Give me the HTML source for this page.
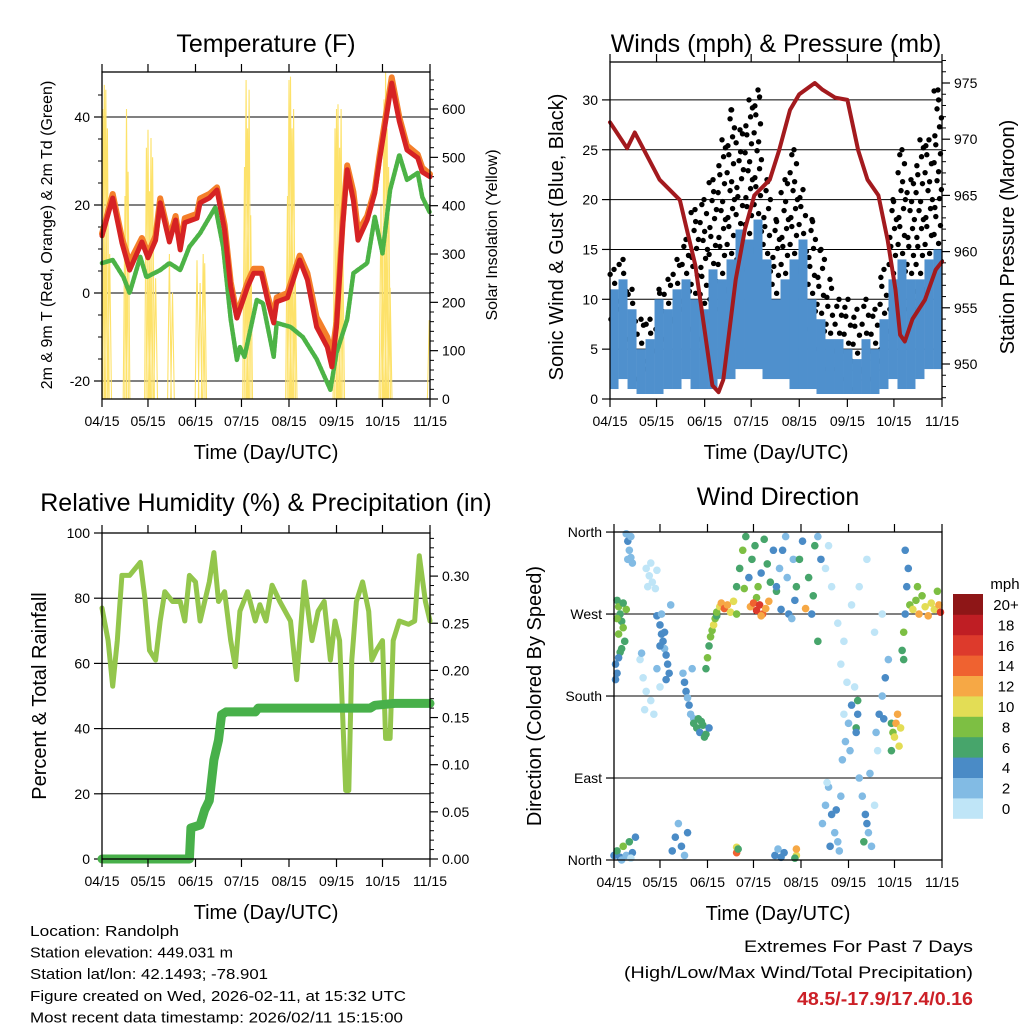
<!DOCTYPE html>
<html><head><meta charset="utf-8"><title>Station Meteogram</title>
<style>
html,body{margin:0;padding:0;background:#fff;}
svg{display:block;font-family:"Liberation Sans",sans-serif;}
</style></head>
<body>
<svg id="fig" width="1024" height="1024" viewBox="0 0 1024 1024" xmlns="http://www.w3.org/2000/svg"></svg>
<script>
// ---------- DATA ----------
const monthTickDays = [0,30,61,91,122,153,183,214];
const monthTickLabels = ["04/15","05/15","06/15","07/15","08/15","09/15","10/15","11/15"];

// Temperature (F)
const tempRedDays = [0,7,13,18,26,30,35,38,44,48,51,54,62,64,70,75,80,84,88,95,99,104,108,112,114,121,129,134,140,147,150,153,157,160,164,167,173,178,181,189,194,199,206,209,214];
const tempRedVals = [13,21.6,11.4,5.2,11.6,8,12,20.5,11.6,16.6,9.8,16,17,20.5,21.6,23.4,14.3,1.4,-5.7,1.4,4.5,4.5,-1.6,-6.8,-2,-1.1,7.5,3,-7.7,-12.3,-16.8,-7.7,15,28,21,12,16.6,22.7,30,47.7,39,32.5,30.7,27.5,26.4];
const tempOrangeVals = [13.5,22.5,12.5,7,12.5,9,13,21.5,12.5,17.5,11,17,18,21.5,22.5,24,15.5,2.5,-5,2.5,5.5,5.5,-0.5,-5.5,-1,0,8.5,4.5,-5.5,-10,-14.5,-6.5,16,29,23,14,17.5,23.5,31,49,40,33.5,31.5,28.5,27];
const dewDays = [0,7,14,18,25,29,38,44,51,57,64,74,79,84,88,90,93,101,105,112,114,123,131,140,149,153,160,164,173,178,183,188,194,199,206,209,214];
const dewVals = [6.8,7.5,3.6,0,8.2,3.6,5.2,6.8,5.2,10.5,13.6,19.5,10.5,-6,-15.2,-12.3,-14.5,-1.6,-2.3,-14.5,-6.8,-7.7,-10,-15,-22,-13.6,-6,4.5,6.8,17.3,9,23.4,31.4,25.7,27.3,21.8,18.2];
// Solar insolation spikes (day, peak W/m2)
const solarDays = [0.5,1.5,2.5,3.5,5,15,16,17,29,30,31,32,33,35,44,46,62,64,66,67,93,94,95,96,97,121,122,123,124,125,126,152,153,154,155,156,157,182,183,184,185,186,187,188,213.5];
const solarVals = [600,650,640,560,300,420,600,470,520,557,430,540,500,250,300,220,287,240,300,281,480,660,560,640,380,420,660,667,560,600,280,560,600,610,520,600,360,400,300,620,677,560,480,230,163];

// Winds (mph) & Pressure (mb)
const pressDays = [0,11,16,32,45,55,61,66,70,73,81,87,93,103,109,116,122,132,137,145,153,160,166,173,179,184,187,190,195,203,210,214];
const pressVals = [971.5,969.2,970.6,966.4,964.6,958.8,953,948.1,947.5,948.6,957.5,962,965,966.4,969,972.6,974,975,974.4,973.7,973.5,969,966.4,965,961,956.6,952.6,952,954,955.7,958.4,959.1];
const windDays = [2.6,8.4,14.2,20.0,25.8,31.6,37.4,43.2,49.0,54.8,60.6,66.4,72.2,78.0,83.8,89.6,95.4,101.2,107.0,112.8,118.6,124.4,130.2,136.0,141.8,147.6,153.4,159.2,165.0,170.8,176.6,182.4,188.2,194.0,199.8,205.6,211.4];
const windLo = [1,2,1,0.5,0.5,0.5,1,1,2,1,1,1,2,2,3,3,3,2,2,2,1,1,1,0.5,0.5,0.5,0.5,0.5,0.5,0.5,1,2,1,1,2,3,3];
const windHi = [11,12,9,5,6,10,9,11,12,10,9,13,12,14,17,16,18,14,10,12,14,16,10,8,6,6,5,4,6,5,8,12,14,12,12,14,15];
const gustMax = [13,14,11,8,8,11,12,14,16,19,20,22,26,29,27,30,31,22,18,22,25,21,18,15,12,10,10,9,10,9,13,20,25,22,26,26,31];

// Relative humidity & precipitation
const rhDays = [0,4,7,10,13,18,25,28,31,35,38,41,46,51,54,57,61,64,67,70,73,76,80,84,87,90,95,100,103,107,111,116,123,127,129,132,137,141,145,149,152,155,159,161,163,166,170,174,176,179,183,185,188,190,194,200,204,207,211,214];
const rhVals = [77,67,53,67,87,87,91,80,64,61,73,82,79,79,73,87,85,73,79,85,94,79,82,67,59,76,82,73,78,73,84,79,73,55,67,85,67,76,79,61,73,67,21,21,61,79,85,76,61,64,67,37,37,67,73,72,73,93,79,73];
const precipDays = [0,57,58,64,67,70,73,76,78,81,100,102,175,178,191,214];
const precipVals = [0,0,0.033,0.036,0.052,0.062,0.105,0.126,0.153,0.156,0.156,0.160,0.160,0.163,0.165,0.165];

// Wind direction (day, degrees, speed mph)
const wdDay = [2,3,4,5,6,3,7,5,8,6,2,4,1,2,1,3, 8,9,10,11,12,9,11, 21,23,25,27,24,22,28, 17,19,21,24,26,28,30,20,18, 28,30,31,32,33,34,35,36,37,30,33,34,31, 45,46,47,48,49,50,51,52, 52,54,56,58,60,62,55,59,57, 60,61,62,63,64,65,66,67, 67,69,70,72,74,76,78,80, 80,82,84,86,88,90,92,94,96,98,100,102,104,106,85,93, 89,91,93,95,97,99,101,96, 106,108,110,112,114,116,118,109,113,117, 119,121,123,125,127,129,131,130,133,133,135, 138,142,146,150,140,155,160,165,170,175,148,152, 136,138,140,142,144,146,148,141,139,145,147, 149,151,153,155,157,150,154, 158,159,159,158, 160,162,164,166,168,170,163,165,167, 171,173,175,177,179,172,176, 181,182,183,184,185,186,187,181, 188,189,190,191,192,190,189, 193,195,197,199,201,203,205,207,209,211,213,212,198, 0,2,4,6,8,10,12,14,5,11, 38,40,42,44,46,48, 80,80,81, 105,107,109,111,119,119,118];
const wdDir = [285,278,270,262,255,248,240,232,275,282,265,228,215,205,198,222, 358,350,340,332,326,330,355, 320,312,305,298,326,300,318, 220,200,185,175,160,210,190,165,227, 268,258,248,240,232,225,215,205,280,235,250,198,270, 205,195,185,178,170,160,210,155, 150,145,140,148,138,145,155,135,152, 210,222,235,245,252,258,265,268, 272,278,282,276,280,272,284,270, 300,320,340,355,310,330,345,300,315,352,325,305,340,295,298,288, 278,282,274,280,270,276,284,268, 300,320,340,355,270,265,285,275,310,330, 300,330,350,276,310,270,345,290,240,355,330, 320,300,260,240,345,280,300,330,250,270,215,195, 40,60,80,50,30,20,70,15,85,55,10, 110,130,150,170,190,160,120, 145,160,175,140, 90,70,50,30,15,60,20,40,95, 140,160,180,200,220,120,155, 150,140,135,150,160,125,145,120, 230,250,270,300,320,340,220, 280,275,285,270,290,278,268,282,275,295,272,280,300, 5,10,3,15,5,20,8,25,0,2, 10,25,40,15,5,30, 8,14,12, 5,12,3,8,5,12,2];
const wdSpd = [7,8,6,7,8,9,6,7,8,6,9,6,4,4,4,4, 3,4,3,3,2,2,3, 1,0,1,0,1,0,1, 1,0,1,0,1,2,1,0,2, 4,4,5,4,3,4,4,4,3,5,4,4,3, 3,4,4,3,4,3,2,3, 6,6,5,6,6,5,7,6,6, 7,8,7,9,8,10,8,7, 9,10,13,14,12,10,11,9, 6,7,8,6,5,7,6,8,5,7,6,7,5,6,9,8, 13,15,17,16,14,12,13,12, 4,3,4,3,4,3,4,4,2,3, 6,7,5,12,6,5,6,7,7,3,4, 1,0,1,0,0,1,0,1,0,1,1,1, 2,3,2,4,3,2,3,4,1,4,2, 2,3,2,4,1,1,3, 6,5,6,5, 2,3,4,2,3,1,6,5,2, 3,4,3,4,3,1,4, 6,9,10,12,12,11,10,6, 7,8,4,5,4,4,7, 8,10,9,12,8,10,12,11,10,8,16,12,9, 4,6,4,8,3,6,5,4,2,1, 4,4,3,4,3,4, 14,11,7, 4,3,5,4,10,12,7];
const speedBinLabels = ["0","2","4","6","8","10","12","14","16","18","20+"];
const speedColors = ["#bfe5f7","#82bbe4","#4a8bc6","#47a56b","#7dbf43","#e3dd55","#f6a845","#ef6230","#dd3a2c","#bf1e24","#8e1617"];

// ---------- DRAWING ----------
const NS = "http://www.w3.org/2000/svg";
const svg = document.getElementById("fig");
function mk(tag, attrs, parent){
  const e = document.createElementNS(NS, tag);
  for (const k in attrs) e.setAttribute(k, attrs[k]);
  (parent || svg).appendChild(e);
  return e;
}
function txt(s, x, y, size, anchor, parent, extra){
  const t = mk("text", Object.assign({x:x, y:y, "font-size":size, "text-anchor":anchor||"middle", fill:"#000"}, extra||{}), parent);
  t.textContent = s;
  return t;
}
function panel(name, x0, x1, y0, y1){
  const g = mk("g", {});
  
  
  return {g, x0, x1, y0, y1, xs: d => x0 + d/214*(x1-x0)};
}
function frame(p){
  const r = mk("rect", {x:p.x0, y:p.y0, width:p.x1-p.x0, height:p.y1-p.y0, fill:"none", stroke:"#000", "stroke-width":1.3}, p.g);
  
  
}
function xAxis(p){
  const g = mk("g", {}, p.g);
  
  
  monthTickDays.forEach((d,i) => {
    const x = p.xs(d);
    mk("line", {x1:x, x2:x, y1:p.y1, y2:p.y1+8, stroke:"#000", "stroke-width":1.2}, g);
    mk("line", {x1:x, x2:x, y1:p.y0, y2:p.y0-8, stroke:"#000", "stroke-width":1.2}, g);
    const t = txt(monthTickLabels[i], x, p.y1+27, 14, "middle", g);
    
    
  });
  const xl = txt("Time (Day/UTC)", (p.x0+p.x1)/2, p.y1+60, 20, "middle", g);
  
  
}
function yAxis(p, vals, labels, ys, side, grid, minorVals){
  const g = mk("g", {}, p.g);
  
  
  vals.forEach((v,i) => {
    const y = ys(v);
    if (side === "left"){
      mk("line", {x1:p.x0-8, x2:p.x0, y1:y, y2:y, stroke:"#000", "stroke-width":1.2}, g);
      if (grid) mk("line", {x1:p.x0, x2:p.x1, y1:y, y2:y, stroke:"#000", "stroke-width":1}, g);
      const t = txt(labels[i], p.x0-12, y+5, 14, "end", g);
      
      
    } else {
      mk("line", {x1:p.x1, x2:p.x1+8, y1:y, y2:y, stroke:"#000", "stroke-width":1.2}, g);
      const t = txt(labels[i], p.x1+12, y+5, 14, "start", g);
      
      
    }
  });
  (minorVals||[]).forEach(v => {
    const y = ys(v);
    if (side === "left") mk("line", {x1:p.x0-4, x2:p.x0, y1:y, y2:y, stroke:"#000", "stroke-width":1}, g);
    else mk("line", {x1:p.x1, x2:p.x1+4, y1:y, y2:y, stroke:"#000", "stroke-width":1}, g);
  });
}
function vlabel(s, x, y, size, name){
  const t = txt(s, x, y, size, "middle", svg, {transform:`rotate(-90 ${x} ${y})`});
  
  
}
function title(s, x, y, name){
  const t = txt(s, x, y, 25, "middle");
  
  
}
function path(p, days, vals, yf, attrs, name){
  let d = "";
  days.forEach((dd,i) => { d += (i?"L":"M") + p.xs(dd).toFixed(1) + "," + yf(vals[i]).toFixed(1); });
  const e = mk("path", Object.assign({d:d, fill:"none", "stroke-linejoin":"round", "stroke-linecap":"round"}, attrs), p.g);
  
  
  return e;
}

// ===== Panel 1: Temperature =====
const p1 = panel("temperature-panel", 102, 430, 72, 399);
const t1y = v => 293 - 4.4*v;
const s1y = v => 399 - v*0.4833;
const clip1 = mk("clipPath", {id:"c1"}); mk("rect", {x:102, y:72, width:328, height:327}, clip1);
yAxis(p1, [-20,0,20,40], ["-20","0","20","40"], t1y, "left", true, [-15,-10,-5,5,10,15,25,30,35,45]);
yAxis(p1, [0,100,200,300,400,500,600], ["0","100","200","300","400","500","600"], s1y, "right", false, [20,40,60,80,120,140,160,180,220,240,260,280,320,340,360,380,420,440,460,480,520,540,560,580,620,640,660]);
{
  let d = "";
  solarDays.forEach((dd,i) => {
    d += "M" + p1.xs(dd-1.2).toFixed(1) + "," + s1y(0) + "L" + p1.xs(dd).toFixed(1) + "," + s1y(solarVals[i]).toFixed(1) + "L" + p1.xs(dd+1.2).toFixed(1) + "," + s1y(0);
  });
  const e = mk("path", {d:d, fill:"none", stroke:"#fde26a", "stroke-width":1.1, "clip-path":"url(#c1)"}, p1.g);
  
  
}
path(p1, dewDays, dewVals, t1y, {stroke:"#4cb346", "stroke-width":4.5, "stroke-dasharray":"3 1.5"}, "dewpoint-2m-line");
path(p1, tempRedDays, tempOrangeVals, t1y, {stroke:"#f47f2a", "stroke-width":6}, "temp-9m-orange-line");
path(p1, tempRedDays, tempRedVals, t1y, {stroke:"#d62224", "stroke-width":5}, "temp-2m-red-line");
frame(p1); xAxis(p1);
title("Temperature (F)", 266, 52, "temperature-title");
vlabel("2m & 9m T (Red, Orange) & 2m Td (Green)", 52, 235, 16, "temperature-y-title");
vlabel("Solar Insolation (Yellow)", 497, 235, 16, "solar-y-title");

// ===== Panel 2: Winds & Pressure =====
const p2 = panel("winds-pressure-panel", 610, 942, 62, 399);
const w2y = v => 399 - v*9.97;
const pr2y = v => 364 - (v-950)*11.24;
yAxis(p2, [0,5,10,15,20,25,30], ["0","5","10","15","20","25","30"], w2y, "left", true);
yAxis(p2, [950,955,960,965,970,975], ["950","955","960","965","970","975"], pr2y, "right", false, [947,948,949,951,952,953,954,956,957,958,959,961,962,963,964,966,967,968,969,971,972,973,974,976,977]);
{
  const gk = mk("g", {}, p2.g);
  
  
  const gb = mk("g", {}, p2.g);
  
  
  windDays.forEach((d,i) => {
    const xa = p2.xs(d-2.9), xb = p2.xs(d+2.9);
    const r = mk("rect", {x:xa, y:w2y(windHi[i]), width:xb-xa, height:w2y(windLo[i])-w2y(windHi[i]), fill:"#4f90cd"}, gb);
    
    
    let k = 0;
    for (let v = windHi[i]-3; v <= gustMax[i]; v += 0.9){
      const off = [-2,1,2.2,-0.6,0.4,-2.5,1.6,-1.4][k%8];
      k++;
      const c = mk("circle", {cx:p2.xs(d+off), cy:w2y(v), r:2.7, fill:"#000"}, gk);
      
      
    }
    const c2 = mk("circle", {cx:p2.xs(d), cy:w2y(gustMax[i]), r:2.7, fill:"#000"}, gk);
    
    
  });
}
path(p2, pressDays, pressVals, pr2y, {stroke:"#a31a1e", "stroke-width":4}, "station-pressure-line");
frame(p2); xAxis(p2);
title("Winds (mph) & Pressure (mb)", 776, 52, "winds-title");
vlabel("Sonic Wind & Gust (Blue, Black)", 563, 237, 20, "wind-y-title");
vlabel("Station Pressure (Maroon)", 1014, 237, 20, "pressure-y-title");

// ===== Panel 3: RH & Precip =====
const p3 = panel("humidity-precip-panel", 102, 430, 533, 859);
const rh3y = v => 859 - v*3.26;
const pc3y = v => 859 - v*943;
yAxis(p3, [0,20,40,60,80,100], ["0","20","40","60","80","100"], rh3y, "left", true);
yAxis(p3, [0,0.05,0.10,0.15,0.20,0.25,0.30], ["0.00","0.05","0.10","0.15","0.20","0.25","0.30"], pc3y, "right", false, [0.01,0.02,0.03,0.04,0.06,0.07,0.08,0.09,0.11,0.12,0.13,0.14,0.16,0.17,0.18,0.19,0.21,0.22,0.23,0.24,0.26,0.27,0.28,0.29,0.31,0.32,0.33,0.34]);
path(p3, rhDays, rhVals, rh3y, {stroke:"#93c64c", "stroke-width":5}, "relative-humidity-line");
path(p3, precipDays, precipVals, pc3y, {stroke:"#48b04a", "stroke-width":9}, "total-precip-line");
frame(p3); xAxis(p3);
title("Relative Humidity (%) & Precipitation (in)", 266, 511, "humidity-title");
vlabel("Percent & Total Rainfall", 46, 696, 20, "humidity-y-title");

// ===== Panel 4: Wind direction =====
const p4 = panel("wind-direction-panel", 614, 942, 532, 860);
const d4y = v => 860 - v*0.911;
yAxis(p4, [0,90,180,270,360], ["North","East","South","West","North"], d4y, "left", true);
{
  const gd = mk("g", {}, p4.g);
  
  
  wdDay.forEach((d,i) => {
    const bin = Math.min(10, Math.floor(wdSpd[i]/2));
    const c = mk("circle", {cx:p4.xs(d), cy:d4y(wdDir[i]), r:3.8, fill:speedColors[bin]}, gd);
    
    
  });
}
frame(p4); xAxis(p4);
title("Wind Direction", 778, 505, "wind-direction-title");
vlabel("Direction (Colored By Speed)", 541, 696, 20, "direction-y-title");
{
  const gl = mk("g", {});
  
  
  const ht = mk("text", {x:1005, y:589, "font-size":15, "text-anchor":"middle"}, gl);
  ht.textContent = "mph";
  
  
  speedColors.forEach((c,i) => {
    const y = 594 + (10-i)*20.4;
    const r = mk("rect", {x:953, y:y, width:30, height:20.8, fill:c}, gl);
    
    
    const t = mk("text", {x:1006, y:y+16, "font-size":15, "text-anchor":"middle"}, gl);
    t.textContent = speedBinLabels[i];
    
    
  });
}

// ===== Footer text =====
const info = ["Location: Randolph","Station elevation: 449.031 m","Station lat/lon: 42.1493; -78.901","Figure created on Wed, 2026-02-11, at 15:32 UTC","Most recent data timestamp: 2026/02/11 15:15:00"];
const infoW = [149,203,238,376,373];
info.forEach((s,i) => {
  const t = txt(s, 30, 936 + i*21.6, 14.5, "start", svg, {textLength:infoW[i], lengthAdjust:"spacingAndGlyphs"});
  
  
});
{
  const a = txt("Extremes For Past 7 Days", 973, 952, 17, "end", svg, {textLength:229, lengthAdjust:"spacingAndGlyphs"});
  
  
  const b = txt("(High/Low/Max Wind/Total Precipitation)", 973, 978, 17, "end", svg, {textLength:349, lengthAdjust:"spacingAndGlyphs"});
  
  
  const c = txt("48.5/-17.9/17.4/0.16", 973, 1005, 18, "end", svg, {fill:"#cc2027", "font-weight":"bold", textLength:176, lengthAdjust:"spacingAndGlyphs"});
  
  
}
</script>
</body></html>
